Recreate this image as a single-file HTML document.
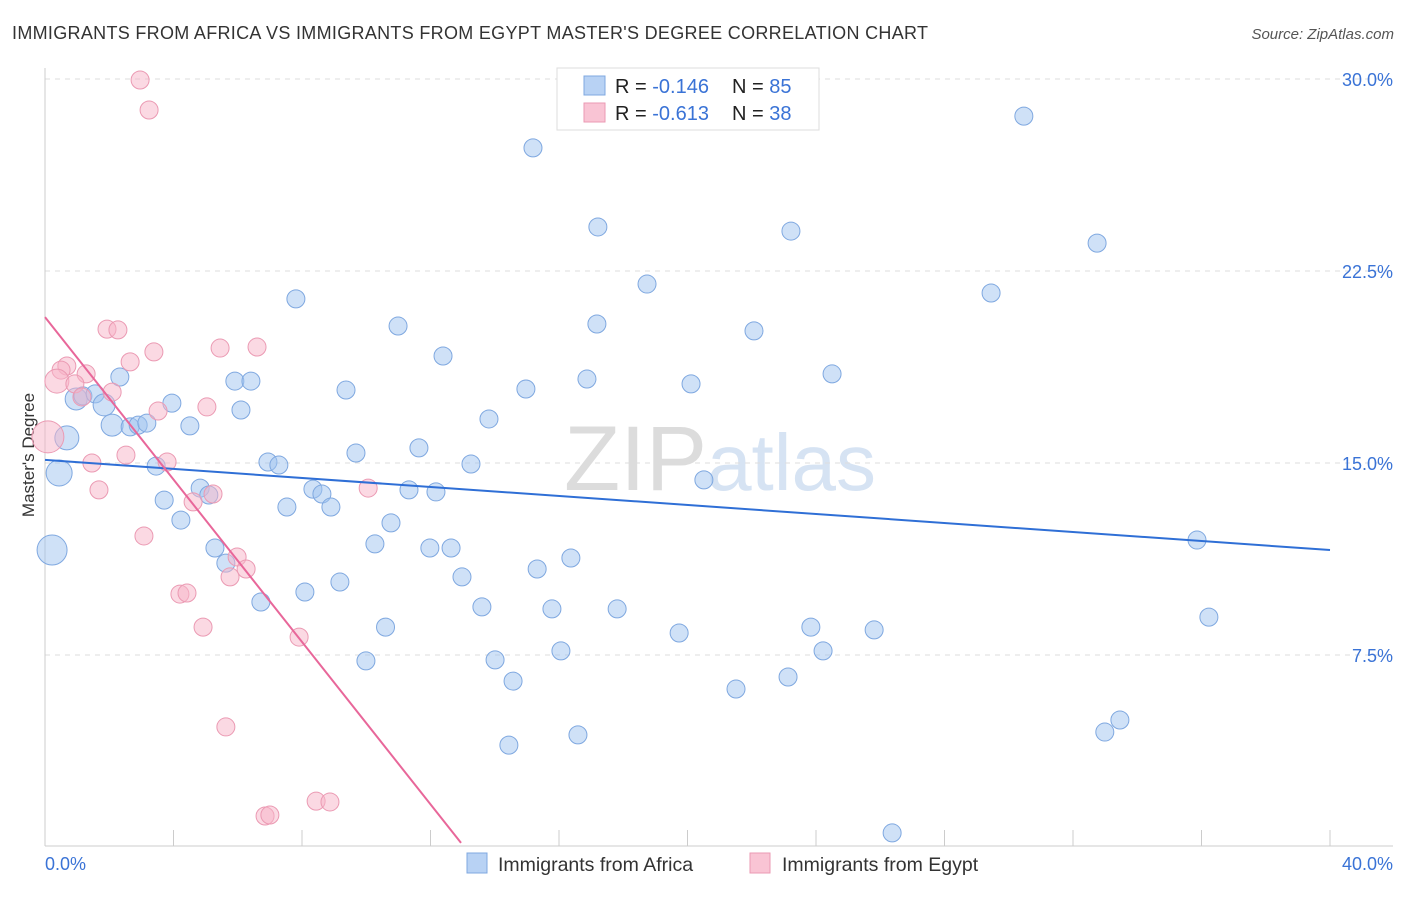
<!DOCTYPE html>
<html><head><meta charset="utf-8"><style>
body{margin:0;background:#fff;font-family:"Liberation Sans",sans-serif;}
svg text{font-family:"Liberation Sans",sans-serif;}
</style></head><body>
<svg id="c" width="1406" height="892" xmlns="http://www.w3.org/2000/svg">
<text x="12" y="39" font-size="18" textLength="916" fill="#333">IMMIGRANTS FROM AFRICA VS IMMIGRANTS FROM EGYPT MASTER'S DEGREE CORRELATION CHART</text>
<text x="1394" y="39" font-size="15" fill="#555" font-style="italic" text-anchor="end">Source: ZipAtlas.com</text>
<text x="720" y="490" font-size="92" fill="#e4e4e4" text-anchor="middle" font-family="Liberation Serif"><tspan fill="#dcdcdc">ZIP</tspan><tspan fill="#d6e3f3" font-family="Liberation Sans" font-size="80">atlas</tspan></text>
<text transform="translate(34,455) rotate(-90)" font-size="17" fill="#333" text-anchor="middle">Master's Degree</text>
<g id="grid"></g><g id="pts"></g><g id="lines"></g>
<g>
<rect x="557" y="68" width="262" height="62" fill="#fff" stroke="#ddd"/>
<rect x="584" y="76" width="21" height="19" fill="#b8d2f4" stroke="#7fa8e0"/>
<rect x="584" y="103" width="21" height="19" fill="#f9c4d4" stroke="#eb9ab3"/>
<text x="615" y="93" font-size="20" fill="#222">R = <tspan fill="#3a73d6">-0.146</tspan></text>
<text x="732" y="93" font-size="20" fill="#222">N = <tspan fill="#3a73d6">85</tspan></text>
<text x="615" y="120" font-size="20" fill="#222">R = <tspan fill="#3a73d6">-0.613</tspan></text>
<text x="732" y="120" font-size="20" fill="#222">N = <tspan fill="#3a73d6">38</tspan></text>
</g>
<g>
<rect x="467" y="853" width="20" height="20" fill="#b8d2f4" stroke="#7fa8e0"/>
<text x="498" y="871" font-size="19.5" fill="#333">Immigrants from Africa</text>
<rect x="750" y="853" width="20" height="20" fill="#f9c4d4" stroke="#eb9ab3"/>
<text x="782" y="871" font-size="19.5" fill="#333">Immigrants from Egypt</text>
</g>
</svg>
<script>
const yTicks=[7.5,15,22.5,30];
const yTickLabels=["7.5%","15.0%","22.5%","30.0%"];
const xTicks=[0,4,8,12,16,20,24,28,32,36,40];
const xLabels=["0.0%","40.0%"];
const africaX=[15.19,30.47,17.21,23.22,32.75,18.74,29.45,7.81,10.99,17.18,22.07,12.39,24.5,2.33,5.91,6.41,16.87,20.11,9.37,14.97,0.97,1.18,1.56,1.84,3.95,6.1,13.82,2.09,2.65,2.9,3.17,4.51,0.68,11.64,9.68,3.46,6.94,7.28,13.26,0.44,20.51,8.34,11.33,4.83,5.1,8.62,12.17,3.71,7.53,8.9,4.23,10.77,35.86,0.22,5.29,10.27,11.98,12.64,16.37,5.63,15.32,12.98,9.18,8.09,6.72,13.6,15.78,17.81,36.23,10.6,19.74,23.84,25.81,16.06,24.22,9.99,14.01,23.13,14.57,21.51,33.46,32.99,16.59,14.44,26.37];
const africaY=[27.31,28.55,24.22,24.06,23.59,21.99,21.64,21.41,20.35,20.43,20.16,19.18,18.48,18.36,18.2,18.2,18.28,18.09,17.85,17.89,17.5,17.62,17.7,17.27,17.34,17.07,16.72,16.48,16.41,16.48,16.56,16.45,15.98,15.59,15.39,14.88,15.04,14.92,14.96,14.61,14.34,13.98,13.95,14.02,13.75,13.79,13.87,13.55,13.28,13.28,12.77,12.66,11.99,11.6,11.68,11.84,11.68,11.68,11.29,11.09,10.86,10.55,10.35,9.96,9.57,9.38,9.3,9.3,8.98,8.59,8.36,8.59,8.48,7.66,7.66,7.27,7.31,6.64,6.48,6.17,4.96,4.49,4.38,3.98,0.55];
const africaR=[9,9,9,9,9,9,9,9,9,9,9,9,9,9,9,9,9,9,9,9,11,9,9,11,9,9,9,11,9,9,9,9,12,9,9,9,9,9,9,13,9,9,9,9,9,9,9,9,9,9,9,9,9,15,9,9,9,9,9,9,9,9,9,9,9,9,9,9,9,9,9,9,9,9,9,9,9,9,9,9,9,9,9,9,9];
const egyptX=[2.96,3.24,1.93,2.27,5.45,6.6,3.39,2.65,0.68,0.5,1.28,0.37,0.93,2.09,0.09,5.04,3.52,1.15,1.46,2.52,3.8,1.68,5.23,4.61,10.06,3.08,5.98,6.26,5.76,4.2,4.42,4.92,7.91,5.63,8.44,8.87,6.85,7.0];
const egyptY=[29.96,28.79,20.23,20.2,19.49,19.53,19.34,18.95,18.79,18.63,18.48,18.2,18.09,17.77,16.02,17.19,17.03,17.58,15.0,15.31,15.04,13.95,13.79,13.48,14.02,12.15,11.33,10.86,10.55,9.88,9.92,8.59,8.2,4.69,1.79,1.76,1.21,1.25];
const egyptR=[9,9,9,9,9,9,9,9,9,9,9,12,9,9,16,9,9,9,9,9,9,9,9,9,9,9,9,9,9,9,9,9,9,9,9,9,9,9];
const africaTrend=[[0,15.12],[40,11.6]];
const egyptTrend=[[0,20.7],[12.95,0.16]];
const X=v=>45+v*32.125, Y=v=>847-v*25.6;
const NS="http://www.w3.org/2000/svg";
function mk(t,a,p){const e=document.createElementNS(NS,t);for(const k in a)e.setAttribute(k,a[k]);p.appendChild(e);return e;}
const grid=document.getElementById('grid');
yTicks.forEach((t,i)=>{
 const l=mk('line',{x1:45,x2:1393,y1:Y(t),y2:Y(t),stroke:'#ddd','stroke-dasharray':'5,5'},grid);
 
 
 const tx=mk('text',{x:1393,y:Y(t)+7,'font-size':18,fill:'#3a73d6','text-anchor':'end'},grid);
 tx.textContent=yTickLabels[i];
 
 
});
mk('line',{x1:45,x2:45,y1:68,y2:846,stroke:'#ccc'},grid);
mk('line',{x1:45,x2:1393,y1:846,y2:846,stroke:'#ccc'},grid);
xTicks.forEach(t=>{const l=mk('line',{x1:X(t),x2:X(t),y1:830,y2:846,stroke:'#ccc'},grid);
 
 });
[[0,xLabels[0],'start',45],[40,xLabels[1],'end',1393]].forEach(a=>{const tx=mk('text',{x:a[3],y:870,'font-size':18,fill:'#3a73d6','text-anchor':a[2]},grid);tx.textContent=a[1];
 
 });
const pts=document.getElementById('pts');
africaX.forEach((v,i)=>{const c=mk('circle',{cx:X(v),cy:Y(africaY[i]),r:africaR[i],fill:'rgba(160,195,240,0.5)',stroke:'#7fa8e0','stroke-width':1},pts);
 
 });
egyptX.forEach((v,i)=>{const c=mk('circle',{cx:X(v),cy:Y(egyptY[i]),r:egyptR[i],fill:'rgba(248,180,200,0.5)',stroke:'#eb9ab3','stroke-width':1},pts);
 
 });
const lines=document.getElementById('lines');
const a=mk('line',{x1:X(africaTrend[0][0]),y1:Y(africaTrend[0][1]),x2:X(africaTrend[1][0]),y2:Y(africaTrend[1][1]),stroke:'#2f6fd6','stroke-width':2},lines);


const b=mk('line',{x1:X(egyptTrend[0][0]),y1:Y(egyptTrend[0][1]),x2:X(egyptTrend[1][0]),y2:Y(egyptTrend[1][1]),stroke:'#e8679a','stroke-width':2},lines);


</script>
</body></html>
